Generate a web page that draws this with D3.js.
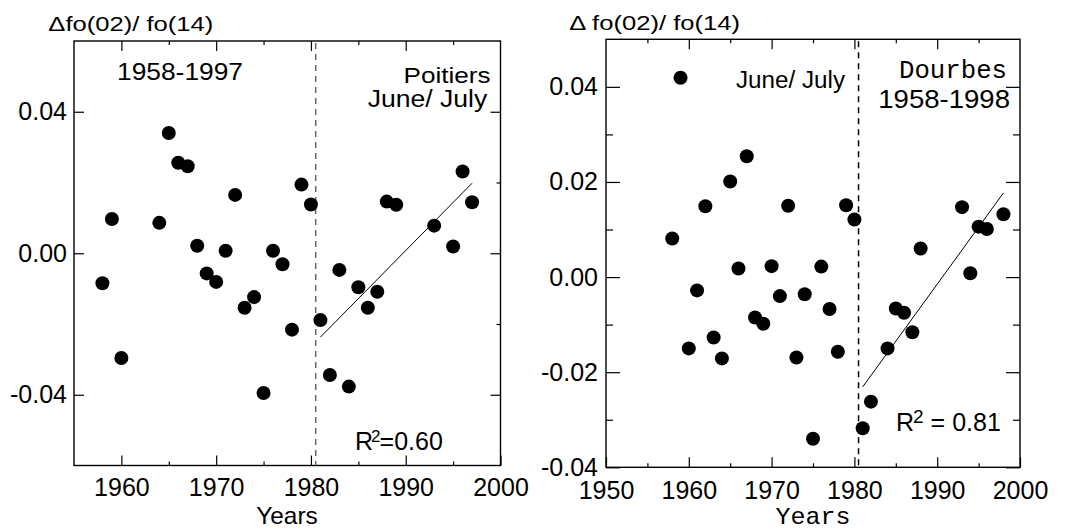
<!DOCTYPE html>
<html><head><meta charset="utf-8">
<script src="https://cdn.jsdelivr.net/npm/d3@7"></script>
<style>
body{margin:0;background:#fff;}
text{font-family:"Liberation Sans",Arial,sans-serif;fill:#000;}
.mono{font-family:"Liberation Mono","Courier New",monospace;}
</style></head>
<body>
<svg id="c" width="1066" height="531"></svg>
<script>
// ---- Data: Poitiers (left panel) ----
const poitiersYears = [1958,1959,1960,1964,1965,1966,1967,1968,1969,1970,1971,1972,1973,1974,1975,1976,1977,1978,1979,1980,1981,1982,1983,1984,1985,1986,1987,1988,1989,1993,1995,1996,1997];
const poitiersValues = [-0.0085,0.0097,-0.0296,0.0086,0.0340,0.0256,0.0246,0.0021,-0.0057,-0.0081,0.0007,0.0165,-0.0154,-0.0124,-0.0395,0.0007,-0.0031,-0.0216,0.0194,0.0138,-0.0189,-0.0344,-0.0047,-0.0377,-0.0096,-0.0154,-0.0109,0.0146,0.0137,0.0078,0.0019,0.0231,0.0144];
const poitiersFitYears = [1981,1997];
const poitiersFitValues = [-0.0237,0.0198];

// ---- Data: Dourbes (right panel) ----
const dourbesYears = [1958,1959,1960,1961,1962,1963,1964,1965,1966,1967,1968,1969,1970,1971,1972,1973,1974,1975,1976,1977,1978,1979,1980,1981,1982,1984,1985,1986,1987,1988,1993,1994,1995,1996,1998];
const dourbesValues = [0.0081,0.0419,-0.0150,-0.0028,0.0149,-0.0127,-0.0171,0.0201,0.0018,0.0254,-0.0085,-0.0098,0.0023,-0.0040,0.0150,-0.0169,-0.0036,-0.0340,0.0022,-0.0067,-0.0157,0.0151,0.0121,-0.0318,-0.0262,-0.0150,-0.0066,-0.0075,-0.0116,0.0060,0.0147,0.0008,0.0106,0.0101,0.0132];
const dourbesFitYears = [1981,1998];
const dourbesFitValues = [-0.0231,0.0177];

// ---- Tick labels ----
const leftXTicks = [1960,1970,1980,1990,2000];
const leftXMinor = [1965,1975,1985,1995];
const leftYTicks = [-0.04,0.00,0.04];
const leftYLabels = ["-0.04","0.00","0.04"];
const leftYMinor = [-0.02,0.02];
const rightXTicks = [1950,1960,1970,1980,1990,2000];
const rightXMinor = [1955,1965,1975,1985,1995];
const rightYTicks = [-0.04,-0.02,0.00,0.02,0.04];
const rightYLabels = ["-0.04","-0.02","0.00","0.02","0.04"];
const rightYMinor = [-0.03,-0.01,0.01,0.03];
const breakYear = 1980.5;

const svg = d3.select("#c");

function panel(cfg){
  const g = svg.append("g");
  const x = d3.scaleLinear().domain(cfg.xDom).range([cfg.x0,cfg.x1]);
  const y = d3.scaleLinear().domain(cfg.yDom).range([cfg.y1,cfg.y0]);
  const tickStyle = sel => { sel.select(".domain").remove(); sel.selectAll("line").attr("stroke","#000").attr("stroke-width",1.2); };
  const fmtMap = (vals,labs)=> d=>{const i=vals.findIndex(v=>Math.abs(v-d)<1e-9);return i>=0?labs[i]:"";};

  g.append("g").attr("transform",`translate(0,${cfg.y1})`)
    .call(d3.axisBottom(x).tickValues(cfg.xTicks).tickSize(-10).tickPadding(cfg.xPad).tickFormat(d3.format("d")))
    .call(tickStyle)
    .call(s=>s.selectAll("text").attr("font-size",25).attr("font-family","Liberation Sans, Arial, sans-serif"));
  g.append("g").attr("transform",`translate(0,${cfg.y1})`)
    .call(d3.axisBottom(x).tickValues(cfg.xMinor).tickSize(-4).tickFormat(""))
    .call(tickStyle);
  g.append("g").attr("transform",`translate(0,${cfg.y0})`)
    .call(d3.axisTop(x).tickValues(cfg.xTicks.filter(v=>v>cfg.xDom[0]&&v<cfg.xDom[1])).tickSize(-10).tickFormat(""))
    .call(tickStyle);
  g.append("g").attr("transform",`translate(0,${cfg.y0})`)
    .call(d3.axisTop(x).tickValues(cfg.xMinor).tickSize(-4).tickFormat(""))
    .call(tickStyle);
  g.append("g").attr("transform",`translate(${cfg.x0},0)`)
    .call(d3.axisLeft(y).tickValues(cfg.yTicks).tickSize(-cfg.yMaj).tickPadding(cfg.yPad).tickFormat(fmtMap(cfg.yTicks,cfg.yLabels)))
    .call(tickStyle)
    .call(s=>s.selectAll("text").attr("font-size",25).attr("font-family","Liberation Sans, Arial, sans-serif"));
  if(cfg.leftMinor) g.append("g").attr("transform",`translate(${cfg.x0},0)`)
    .call(d3.axisLeft(y).tickValues(cfg.yMinor).tickSize(-cfg.yMin).tickFormat(""))
    .call(tickStyle);
  g.append("g").attr("transform",`translate(${cfg.x1},0)`)
    .call(d3.axisRight(y).tickValues(cfg.yTicks).tickSize(-cfg.yMaj).tickFormat(""))
    .call(tickStyle);
  g.append("g").attr("transform",`translate(${cfg.x1},0)`)
    .call(d3.axisRight(y).tickValues(cfg.yMinor).tickSize(-cfg.yMin).tickFormat(""))
    .call(tickStyle);

  g.append("rect").attr("x",cfg.x0).attr("y",cfg.y0).attr("width",cfg.x1-cfg.x0).attr("height",cfg.y1-cfg.y0)
    .attr("fill","none").attr("stroke","#000").attr("stroke-width",1.4);

  g.append("line").attr("x1",x(breakYear)).attr("x2",x(breakYear)).attr("y1",cfg.y0+2).attr("y2",cfg.y1)
    .attr("stroke",cfg.dashColor).attr("stroke-width",1.5).attr("stroke-dasharray","6,5");

  g.append("line").attr("x1",x(cfg.fitX[0])).attr("y1",y(cfg.fitY[0])).attr("x2",x(cfg.fitX[1])).attr("y2",y(cfg.fitY[1]))
    .attr("stroke","#000").attr("stroke-width",1);

  g.selectAll("circle.pt").data(cfg.years.map((d,i)=>[d,cfg.values[i]])).join("circle")
    .attr("class","pt").attr("cx",d=>x(d[0])).attr("cy",d=>y(d[1])).attr("r",7).attr("fill","#000");
  return {g,x,y};
}

panel({x0:74,x1:500.5,y0:41,y1:465.5,xDom:[1955,2000],yDom:[-0.06,0.06],
  xTicks:leftXTicks,xMinor:leftXMinor,yTicks:leftYTicks,yLabels:leftYLabels,yMinor:leftYMinor,
  yMaj:10,yMin:4,yPad:7,xPad:13,leftMinor:false,dashColor:"#666",
  years:poitiersYears,values:poitiersValues,fitX:poitiersFitYears,fitY:poitiersFitValues});

panel({x0:606,x1:1020,y0:39.3,y1:467.3,xDom:[1950,2000],yDom:[-0.04,0.05],
  xTicks:rightXTicks,xMinor:rightXMinor,yTicks:rightYTicks,yLabels:rightYLabels,yMinor:rightYMinor,
  yMaj:14,yMin:7,yPad:8,xPad:14,leftMinor:true,dashColor:"#000",
  years:dourbesYears,values:dourbesValues,fitX:dourbesFitYears,fitY:dourbesFitValues});

function txt(x,y,s,size,opts={}){
  const t = svg.append("text").attr("x",x).attr("y",y).attr("font-size",size).text(s);
  if(opts.anchor) t.attr("text-anchor",opts.anchor);
  if(opts.len) t.attr("textLength",opts.len).attr("lengthAdjust","spacingAndGlyphs");
  if(opts.mono) t.attr("class","mono");
  return t;
}

// Left panel texts
txt(48.3,31,"\u0394fo(02)/ fo(14)",21,{len:165});
txt(117,79.5,"1958-1997",24,{len:126});
txt(403.5,82.5,"Poitiers",22,{len:87});
txt(367.7,106.5,"June/ July",23,{len:119.6});
txt(287,523.5,"Years",24,{anchor:"middle",len:61.6});
{
  const t = svg.append("text").attr("x",355).attr("y",449.5).attr("font-size",25);
  t.append("tspan").text("R");
  t.append("tspan").attr("dx",-2).attr("dy",-8).attr("font-size",17).text("2");
  t.append("tspan").attr("dx",-1).attr("dy",8).text("=0.60");
}

// Right panel texts
txt(569.3,30,"\u0394 fo(02)/ fo(14)",21,{len:170.7});
txt(736,87.5,"June/ July",23,{len:109});
txt(899,77.5,"Dourbes",26,{len:108,mono:true});
txt(878.3,107.5,"1958-1998",26,{len:131.7});
txt(813,523.5,"Years",24,{anchor:"middle",mono:true,len:75});
{
  const t = svg.append("text").attr("x",896).attr("y",431).attr("font-size",25);
  t.append("tspan").text("R");
  t.append("tspan").attr("dx",-1).attr("dy",-8).attr("font-size",19).text("2");
  t.append("tspan").attr("dy",8).text(" = 0.81");
}
</script>
</body></html>
